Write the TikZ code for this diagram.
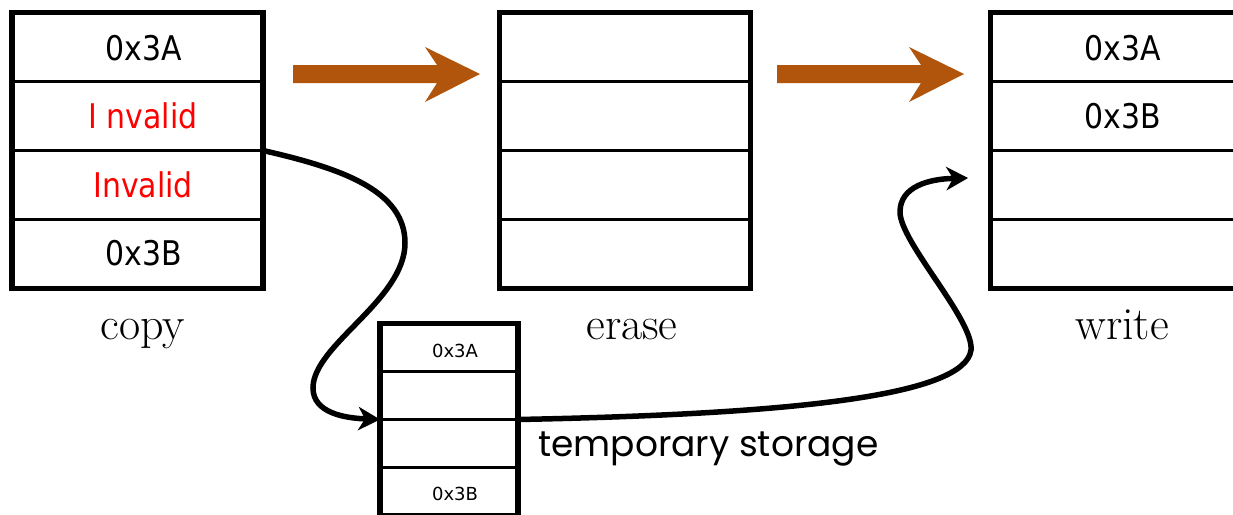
\documentclass[tikz,border=0pt]{standalone}
\usepackage{fontspec}
\usetikzlibrary{arrows.meta}
\newfontfamily\tah[FakeStretch=0.88]{DejaVu Sans}
\newfontfamily\verd{DejaVu Sans}
\newfontfamily\comic{Poppins}
\definecolor{arrowbrown}{RGB}{176,85,11}
\definecolor{invred}{RGB}{255,0,0}
\begin{document}
\begin{tikzpicture}[x=1pt,y=-1pt,
  cell/.style={draw, line width=3pt, minimum width=251pt, minimum height=69pt, inner sep=0pt, outer sep=0pt},
  tcell/.style={draw, line width=2.5pt, minimum width=138pt, minimum height=48pt, inner sep=0pt, outer sep=0pt},
  frame/.style={line width=5.5pt},
  bigtxt/.style={anchor=base, inner sep=0pt, font=\tah\fontsize{34}{40}\selectfont},
  smalltxt/.style={anchor=base, inner sep=0pt, font=\verd\fontsize{18}{22}\selectfont},
  lab/.style={anchor=base, inner sep=0pt, font=\fontsize{46}{52}\selectfont},
  conn/.style={line width=5.5pt, -{Stealth[length=22pt,width=24pt,inset=7pt,line width=0pt]}},
  bigarrow/.pic={\fill[arrowbrown] (-187,-9) -- (-43,-9) -- (-55,-27) -- (0,0) -- (-55,28) -- (-43,9) -- (-187,9) -- cycle;}
]
\clip (0,0) rectangle (1233,514);
\fill[white] (0,0) rectangle (1233,514);

% copy, erase and write boxes
\foreach \i/\y in {1/47,2/116,3/185,4/254}{
  \node[cell] (c\i) at (137.5,\y) {};
  \node[cell] (e\i) at (625,\y) {};
  \node[cell] (w\i) at (1116,\y) {};
}
\draw[frame] (c1.north west) rectangle (c4.south east);
\draw[frame] (e1.north west) rectangle (e4.south east);
\draw[frame] (w1.north west) rectangle (w4.south east);

\node[bigtxt] (c1t) at (144,60) {0x3A};
\node[bigtxt, text=invred] (c2t) at (143,128) {I nvalid};
\node[bigtxt, text=invred] (c3t) at (143,197) {Invalid};
\node[bigtxt] (c4t) at (144,265) {0x3B};
\node[bigtxt] (w1t) at (1122.5,60) {0x3A};
\node[bigtxt] (w2t) at (1122.5,128) {0x3B};

% labels
\node[lab] (copyl) at (143,339) {copy};
\node[lab] (erasel) at (632,339) {erase};
\node[lab] (writel) at (1122,339) {write};

% temporary storage
\foreach \i/\y in {1/347.5,2/395.5,3/443.5,4/491.5}{
  \node[tcell] (t\i) at (449,\y) {};
}
\draw[frame] (t1.north west) rectangle (t4.south east);
\node[smalltxt] (t1t) at (455,357) {0x3A};
\node[smalltxt] (t4t) at (455,500) {0x3B};
\node[anchor=base west, inner sep=0pt, font=\comic\fontsize{36}{42}\selectfont] (tlab) at (538,456) {temporary storage};

% big arrows
\pic at (480,74) {bigarrow};
\pic at (964,74) {bigarrow};

% connectors
\coordinate (wtip) at (968,178);
\draw[conn] (c2.south east) .. controls (340,168) and (405,190) .. (405,243)
  .. controls (405,300) and (313,345) .. (313,388)
  .. controls (313,413) and (345,418) .. (t2.south west);
\draw[conn] (t2.south east) .. controls (800,414) and (965,395) .. (971,350)
  .. controls (974,320) and (900,242) .. (900,212)
  .. controls (900,186) and (930,179) .. (wtip);
\end{tikzpicture}
\end{document}
